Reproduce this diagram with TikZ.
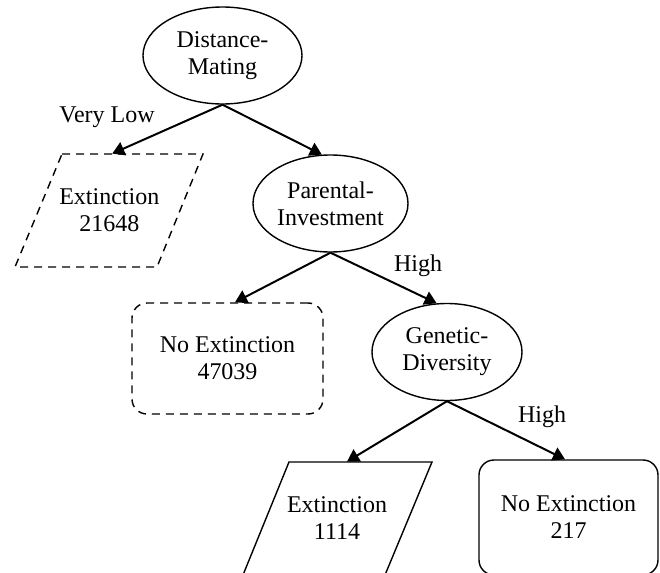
\documentclass[tikz,border=0pt]{standalone}
\usepackage{fontspec}
\setmainfont{Liberation Serif}
\usetikzlibrary{shapes.geometric,arrows.meta,calc}
\begin{document}
\begin{tikzpicture}[x=0.5pt,y=-0.5pt,
  every node/.style={font=\fontsize{12}{13.5}\selectfont, align=center, inner sep=0pt},
  ell/.style={draw, ellipse, line width=0.7pt, minimum height=48.5pt},
  leaf/.style={draw, rectangle, rounded corners=7.5pt, line width=0.7pt},
  dsh/.style={dash pattern=on 4pt off 3pt},
  shp/.style={line width=0.7pt, line join=miter},
  edg/.style={line width=1pt, -{Triangle[length=6pt,width=7pt]}}]
\useasboundingbox (0,0) rectangle (660,573);
\clip (0,0) rectangle (660,573);

% internal nodes
\node[ell, minimum width=79.5pt] (dm) at (222.5,55.5) {Distance-\\Mating};
\node[ell, minimum width=77.5pt] (pi) at (330.5,203.5) {Parental-\\Investment};
\node[ell, minimum width=75pt] (gd) at (447,352) {Genetic-\\Diversity};

% leaves
\node[minimum height=56.5pt] (e1) at (109.25,210.5) {Extinction\\21648};
\draw[shp, dsh] ($(e1)+(-47.25,-56.5)$) -- ($(e1)+(93.75,-56.5)$) -- ($(e1)+(47.75,56.5)$) -- ($(e1)+(-94.25,56.5)$) -- cycle;

\node[leaf, dsh, minimum width=95.5pt, minimum height=55.5pt] (ne1) at (227.5,358.5) {No Extinction\\47039};

\node[minimum height=56.5pt] (e2) at (337,518.5) {Extinction\\1114};
\draw[shp] ($(e2)+(-48,-56.5)$) -- ($(e2)+(95,-56.5)$) -- ($(e2)+(48,56.5)$) -- ($(e2)+(-94,56.5)$) -- cycle;

\node[leaf, minimum width=89.5pt, minimum height=57.5pt] (ne2) at (568.5,517.5) {No Extinction\\217};

% edges
\draw[edg] (dm.south) -- ([xshift=1.5pt]e1.north);
\draw[edg] (dm.south) -- (pi.100);
\draw[edg] (pi.south) -- ([xshift=3.75pt]ne1.north);
\draw[edg] (pi.south) -- (gd.102);
\draw[edg] (gd.south) -- ([xshift=5pt]e2.north);
\draw[edg] (gd.south) -- ([xshift=-1.75pt]ne2.north);

% edge labels
\node (l1) at (107,117) {Very Low};
\node (l2) at (418,266) {High};
\node (l3) at (542,417) {High};
\end{tikzpicture}
\end{document}
